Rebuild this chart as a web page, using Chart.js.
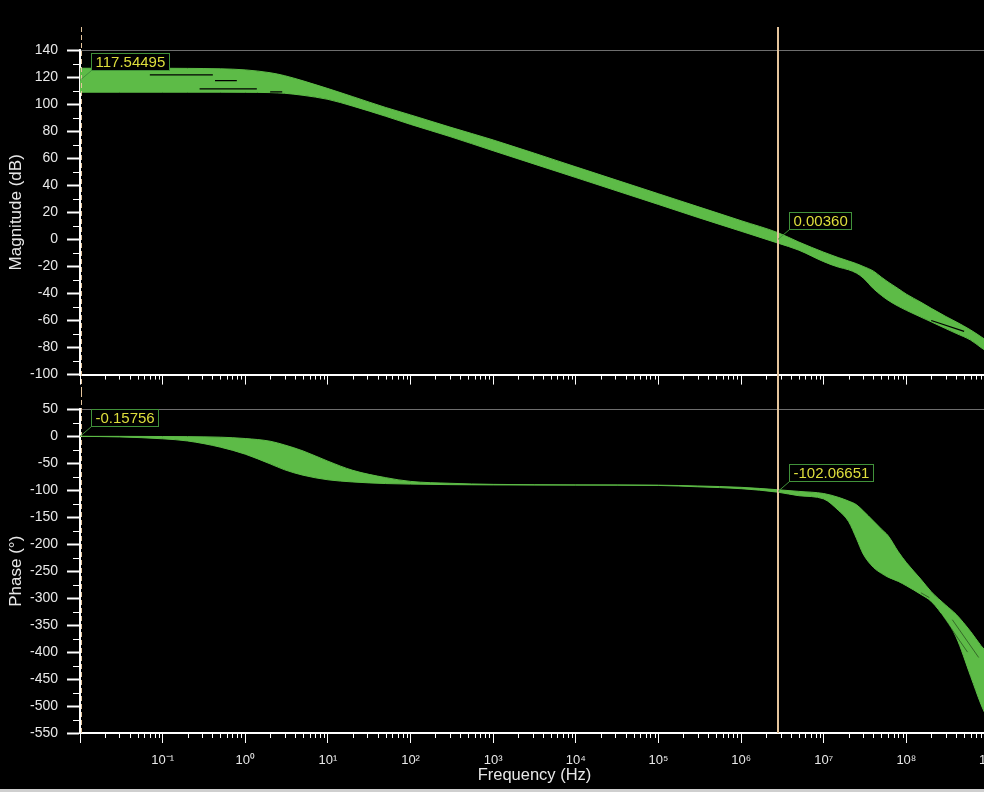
<!DOCTYPE html>
<html>
<head>
<meta charset="utf-8">
<title>Open-loop Bode plot</title>
<script src="https://cdn.jsdelivr.net/npm/chart.js@4.4.1/dist/chart.umd.min.js"></script>
<style>
  html, body { margin: 0; padding: 0; background: #cfcfcf; }
  #plots { position: relative; width: 984px; height: 789px; overflow: hidden; background: #000; }
  #plots canvas { position: absolute; left: 0; }
  #mag { top: 0; }
  #phase { top: 392px; }
</style>
</head>
<body>
<div id="plots">
  <canvas id="mag" width="1000" height="392"></canvas>
  <canvas id="phase" width="1000" height="400"></canvas>
</div>
<script>
// frequency points (Hz) shared by all envelope traces
const freqHz = [0.01, 0.03, 0.1, 0.2, 0.5, 1, 2, 3, 5, 10, 20, 50, 100, 300, 1e3, 1e4, 1e5, 3e5, 1e6,
  2.8e6, 5e6, 1e7, 1.5e7, 2e7, 2.5e7, 3e7, 4e7, 5e7, 6e7, 8e7, 1e8, 1.5e8, 2e8, 3e8, 4e8, 6e8, 8e8, 1e9];

// magnitude spread over all Monte Carlo runs (dB)
const magUpperDb = [126.5, 126.5, 126.5, 126.4, 126.1, 125.3, 123.2, 121, 117.2, 111.5, 105.5, 97.5, 92, 83,
  73.5, 53.6, 33.7, 24.2, 13.8, 4.9, -2, -9.5, -13.5, -16, -18, -20, -23.5, -28, -31.5, -36.5, -40.5, -46.5,
  -51, -57, -61, -67, -72, -76];
const magLowerDb = [108.8, 108.8, 108.8, 108.8, 108.8, 108.7, 108.5, 108, 106.5, 103.5, 98.5, 91, 85, 76,
  65.5, 45.7, 25.8, 16.2, 6, -2.8, -8, -16.5, -20.5, -22.5, -25, -28.5, -36.5, -41.5, -45, -49.5, -52.5, -57.5,
  -61, -66, -69.5, -74.5, -80, -84];

// phase spread over all runs (degrees)
const phaseUpperDeg = [0, 0, -0.3, -0.5, -1.5, -4, -9, -16, -27, -46, -63, -76.5, -83.5, -87, -89, -90,
  -90.5, -92, -94.5, -99, -102, -106, -113, -120, -127, -138, -157, -172, -184, -214, -234, -265, -288,
  -313, -330, -362, -388, -405];
const phaseLowerDeg = [0, -1, -4.5, -8.5, -20, -33, -51, -62, -72, -80.5, -84.5, -87.5, -88.5, -89.5, -90,
  -90.3, -91, -93.5, -97, -103.5, -110, -116, -137, -158, -190, -218, -243, -254, -261, -269, -277, -293,
  -306, -340, -372, -445, -497, -530];

// individual runs showing as dark seams inside the bands: [fromHz, toHz, fromValue, toValue]
const magSeams = [
  [0.07, 0.405, 121.6, 121.6],
  [0.43, 0.79, 117.4, 117.4],
  [0.28, 1.38, 111.3, 111.3],
  [2.0, 2.8, 109.0, 109.0],
  [2.0e8, 5.0e8, -60, -68]
];
const phaseSeams = [
  [1.5e8, 1.9e8, -290, -299],
  [2.6e8, 5.5e8, -328, -400],
  [3.6e8, 7.5e8, -340, -410]
];

// cursor frequencies and the values read out at them
const cursorHz = [0.01, 2.8e6];
const magReadoutDb = [117.54495, 0.0036];
const phaseReadoutDeg = [-0.15756, -102.06651];

// axis ticks
const decadeTicks = [1e-2, 1e-1, 1e0, 1e1, 1e2, 1e3, 1e4, 1e5, 1e6, 1e7, 1e8, 1e9];
const decadeLabels = ['', '10⁻¹', '10⁰', '10¹', '10²', '10³', '10⁴', '10⁵', '10⁶', '10⁷', '10⁸', '10⁹'];
const magAxis = { min: -100, max: 140, step: 20 };
const phaseAxis = { min: -550, max: 50, step: 50 };

const GREEN = '#5dbb47';
const CURSOR = '#e4c49c';
const TEXT = '#e8e8e8';
const FONT = '"Liberation Sans", Arial, sans-serif';

function points(values) {
  return freqHz.map((f, i) => ({ x: f, y: values[i] }));
}

function seamPoints(seams) {
  const out = [];
  seams.forEach(([f0, f1, v0, v1]) => {
    out.push({ x: f0, y: v0 }, { x: f1, y: v1 }, { x: f1, y: null });
  });
  return out;
}

function readoutPoints(values) {
  return cursorHz.map((f, i) => ({ x: f, y: values[i] }));
}

// minor ticks, cursor lines and the yellow value boxes
const bodeDecor = {
  id: 'bodeDecor',
  afterDatasetsDraw(chart, args, opts) {
    const { ctx, chartArea, scales: { x, y } } = chart;
    ctx.save();

    ctx.strokeStyle = '#ffffff';
    ctx.lineWidth = 1;
    ctx.beginPath();
    for (let d = -2; d < 9; d++) {
      for (let m = 2; m < 10; m++) {
        const px = Math.round(x.getPixelForValue(m * 10 ** d)) + 0.5;
        ctx.moveTo(px, x.top + 1);
        ctx.lineTo(px, x.top + 5);
      }
    }
    const t = y.ticks;
    for (let i = 0; i + 1 < t.length; i++) {
      const py = Math.round(y.getPixelForValue((t[i].value + t[i + 1].value) / 2)) + 0.5;
      ctx.moveTo(y.right - 7, py);
      ctx.lineTo(y.right - 1, py);
    }
    ctx.stroke();

    const top = opts.cursorTop;
    const bottom = opts.cursorBottom != null ? opts.cursorBottom : chartArea.bottom;
    ctx.strokeStyle = CURSOR;

    // reference cursor, dashed
    const x0 = Math.round(x.getPixelForValue(cursorHz[0])) + 1.5;
    ctx.lineWidth = 1;
    ctx.setLineDash([5, 3]);
    ctx.beginPath();
    ctx.moveTo(x0, top);
    ctx.lineTo(x0, bottom);
    ctx.stroke();

    // measurement cursor, solid
    const x1 = Math.round(x.getPixelForValue(cursorHz[1]));
    ctx.setLineDash([]);
    ctx.lineWidth = 2;
    ctx.beginPath();
    ctx.moveTo(x1, top);
    ctx.lineTo(x1, bottom);
    ctx.stroke();

    chart.data.datasets.forEach((ds, i) => {
      if (!ds.readout) return;
      chart.getDatasetMeta(i).data.forEach((pt, j) => {
        const text = ds.data[j].y.toFixed(5);
        ctx.font = '15px ' + FONT;
        const w = Math.round(ctx.measureText(text).width) + 8;
        const h = 17;
        const bx = Math.round(pt.x + 11) + 0.5;
        const by = Math.round(pt.y - 10 - h) + 0.5;
        ctx.strokeStyle = '#41913a';
        ctx.lineWidth = 1;
        ctx.beginPath();
        ctx.moveTo(pt.x, pt.y);
        ctx.lineTo(bx, by + h);
        ctx.stroke();
        ctx.fillStyle = '#000';
        ctx.fillRect(bx, by, w, h);
        ctx.strokeRect(bx, by, w, h);
        ctx.fillStyle = '#dede3c';
        ctx.textBaseline = 'middle';
        ctx.textAlign = 'left';
        ctx.fillText(text, bx + 4, by + h / 2 + 1);
      });
    });

    ctx.restore();
  }
};

function makeChart(canvasId, cfg) {
  const datasets = [
    { data: points(cfg.upper), borderColor: GREEN, borderWidth: 1, pointRadius: 0, fill: false,
      cubicInterpolationMode: 'monotone', order: 3 },
    { data: points(cfg.lower), borderColor: GREEN, borderWidth: 1, pointRadius: 0, fill: '-1',
      backgroundColor: GREEN, cubicInterpolationMode: 'monotone', order: 3 },
    { data: seamPoints(cfg.seams), borderColor: cfg.seamColor, borderWidth: cfg.seamWidth, pointRadius: 0,
      fill: false, spanGaps: false, tension: 0, order: 1 },
    { data: readoutPoints(cfg.readout), readout: true, showLine: false, pointRadius: 0, order: 0 }
  ];

  return new Chart(document.getElementById(canvasId), {
    type: 'line',
    data: { datasets },
    plugins: [bodeDecor],
    options: {
      responsive: false,
      animation: false,
      devicePixelRatio: 1,
      layout: { padding: { top: cfg.padTop, left: 0, right: 11, bottom: 0 } },
      plugins: {
        legend: { display: false },
        tooltip: { enabled: false },
        bodeDecor: { cursorTop: cfg.cursorTop, cursorBottom: cfg.cursorBottom }
      },
      scales: {
        x: {
          type: 'logarithmic',
          min: 1e-2,
          max: 1e9,
          afterBuildTicks: s => { s.ticks = decadeTicks.map(v => ({ value: v })); },
          afterFit: s => { s.height = cfg.xHeight; s.paddingLeft = 0; s.paddingRight = 0; },
          border: { color: '#ffffff', width: 2 },
          grid: { drawOnChartArea: false, tickLength: 10, tickColor: '#ffffff', tickWidth: 1 },
          ticks: {
            display: cfg.xLabels,
            autoSkip: false,
            maxRotation: 0,
            padding: 10,
            color: TEXT,
            font: { size: 13, family: FONT },
            callback: (v, i) => decadeLabels[i]
          },
          title: {
            display: cfg.xLabels,
            text: 'Frequency (Hz)',
            color: TEXT,
            font: { size: 16.5, family: FONT },
            padding: { top: 0, bottom: 7 }
          }
        },
        y: {
          min: cfg.axis.min,
          max: cfg.axis.max,
          afterFit: s => { s.width = 80; },
          border: { color: '#ffffff', width: 2 },
          grid: {
            drawOnChartArea: true,
            color: c => (c.tick && c.tick.value === cfg.axis.max ? '#6e6e6e' : 'rgba(0,0,0,0)'),
            lineWidth: 1,
            tickLength: 13,
            tickColor: '#ffffff',
            tickWidth: 2
          },
          ticks: {
            stepSize: cfg.axis.step,
            padding: 9,
            color: TEXT,
            font: { size: 14, family: FONT }
          },
          title: {
            display: true,
            text: cfg.title,
            color: TEXT,
            font: { size: 17, family: FONT },
            padding: { top: 6, bottom: 0 }
          }
        }
      }
    }
  });
}

makeChart('mag', {
  upper: magUpperDb, lower: magLowerDb, seams: magSeams, readout: magReadoutDb,
  seamColor: '#000000', seamWidth: 1.2,
  axis: magAxis, title: 'Magnitude (dB)', padTop: 50, xHeight: 16, xLabels: false,
  cursorTop: 27, cursorBottom: 392
});

makeChart('phase', {
  upper: phaseUpperDeg, lower: phaseLowerDeg, seams: phaseSeams, readout: phaseReadoutDeg,
  seamColor: 'rgba(0,0,0,0.55)', seamWidth: 0.8,
  axis: phaseAxis, title: 'Phase (°)', padTop: 16, xHeight: 59, xLabels: true,
  cursorTop: 0, cursorBottom: null
});
</script>
</body>
</html>
